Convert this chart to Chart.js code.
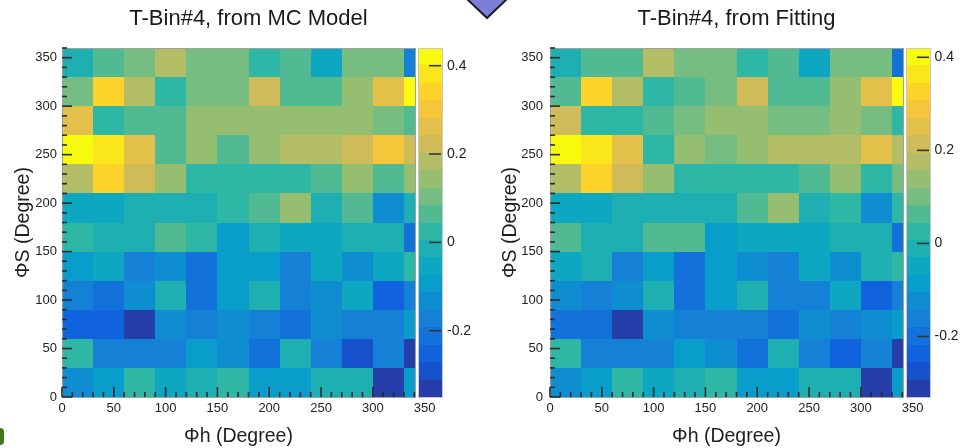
<!DOCTYPE html>
<html>
<head>
<meta charset="utf-8">
<script src="https://cdn.jsdelivr.net/npm/chart.js@4.4.1/dist/chart.umd.min.js"></script>
<style>
html,body{margin:0;padding:0;background:#fff;overflow:hidden;width:960px;height:448px;position:relative}
.panel{position:absolute;top:0;width:480px;height:448px}
#p1{left:0}
#p2{left:480px}
.deco{position:absolute;pointer-events:none}
</style>
</head>
<body>
<div class="panel" id="p1"><canvas id="c1" width="480" height="448"></canvas></div>
<div class="panel" id="p2"><canvas id="c2" width="480" height="448"></canvas></div>
<svg class="deco" style="left:462px;top:0" width="50" height="22">
  <polygon points="4,-2 46,-2 25,18" fill="#7d7fd6" stroke="#1c1c2c" stroke-width="2"/>
</svg>
<div class="deco" style="left:0;top:428px;width:4px;height:17px;background:#3f7a16;border-radius:0 6px 6px 0"></div>
<script>
// ---------------- data ----------------
const phiHEdges = [0, 30, 60, 90, 120, 150, 180, 210, 240, 270, 300, 330, 360];
const phiSEdges = [0, 30, 60, 90, 120, 150, 180, 210, 240, 270, 300, 330, 360];
const axisTickStep = 50;
const colorTickStep = 0.2;

// rows: ΦS bin 0-30 (first) ... 330-360 (last); columns: Φh bins
const mcModel = [
  [-0.13, -0.09,  0.03, -0.05, -0.01,  0.03, -0.09, -0.09, -0.01, -0.01, -0.33, -0.09],
  [ 0.03, -0.17, -0.17, -0.17, -0.09, -0.13, -0.21, -0.01, -0.17, -0.29, -0.17, -0.33],
  [-0.25, -0.25, -0.33, -0.13, -0.17, -0.13, -0.17, -0.21, -0.13, -0.17, -0.17, -0.09],
  [-0.17, -0.21, -0.13, -0.01, -0.21, -0.09, -0.01, -0.17, -0.13, -0.05, -0.25, -0.17],
  [-0.09, -0.05, -0.17, -0.13, -0.21, -0.09, -0.09, -0.17, -0.05, -0.13, -0.05,  0.03],
  [ 0.03, -0.01, -0.01,  0.07,  0.03, -0.09, -0.01, -0.05, -0.05, -0.01, -0.01, -0.21],
  [-0.05, -0.05, -0.01, -0.01, -0.01,  0.03,  0.07,  0.14, -0.01,  0.07, -0.13, -0.01],
  [ 0.18,  0.34,  0.22,  0.14,  0.03,  0.03,  0.03,  0.03,  0.07,  0.14,  0.07,  0.14],
  [ 0.42,  0.38,  0.26,  0.07,  0.14,  0.07,  0.14,  0.18,  0.18,  0.22,  0.30,  0.22],
  [ 0.26,  0.03,  0.07,  0.07,  0.14,  0.14,  0.14,  0.14,  0.14,  0.14,  0.10,  0.07],
  [ 0.10,  0.34,  0.18,  0.03,  0.10,  0.10,  0.22,  0.07,  0.07,  0.14,  0.26,  0.42],
  [-0.01,  0.07,  0.10,  0.18,  0.10,  0.10,  0.03,  0.07, -0.05,  0.10,  0.10, -0.17]
];

const fitting = [
  [-0.12, -0.09,  0.03, -0.05, -0.01,  0.03, -0.09, -0.09, -0.01, -0.01, -0.31, -0.09],
  [ 0.03, -0.16, -0.16, -0.16, -0.09, -0.12, -0.20, -0.01, -0.16, -0.24, -0.16, -0.31],
  [-0.20, -0.20, -0.31, -0.12, -0.16, -0.16, -0.16, -0.20, -0.12, -0.16, -0.12, -0.09],
  [-0.12, -0.16, -0.12, -0.01, -0.20, -0.09, -0.01, -0.16, -0.16, -0.05, -0.24, -0.16],
  [-0.05, -0.01, -0.16, -0.09, -0.20, -0.09, -0.12, -0.16, -0.05, -0.12, -0.01,  0.03],
  [ 0.06, -0.01, -0.01,  0.06,  0.06, -0.09, -0.05, -0.05, -0.05, -0.01, -0.01, -0.20],
  [-0.05, -0.05, -0.01, -0.01, -0.01, -0.01,  0.06,  0.14, -0.01,  0.03, -0.12,  0.03],
  [ 0.18,  0.33,  0.21,  0.14,  0.03,  0.03,  0.03,  0.03,  0.06,  0.14,  0.03,  0.10],
  [ 0.40,  0.36,  0.25,  0.03,  0.14,  0.10,  0.14,  0.18,  0.18,  0.18,  0.25,  0.18],
  [ 0.21,  0.03,  0.03,  0.06,  0.10,  0.14,  0.14,  0.10,  0.10,  0.14,  0.10,  0.03],
  [ 0.06,  0.33,  0.18,  0.03,  0.06,  0.10,  0.21,  0.06,  0.06,  0.14,  0.25,  0.40],
  [-0.01,  0.06,  0.06,  0.18,  0.10,  0.10,  0.03,  0.06, -0.05,  0.10,  0.10, -0.20]
];

const mcZRange = [-0.35, 0.44];
const fitZRange = [-0.33, 0.42];
const nContours = 20;
const axisMax = 360;      // full axis range
const frameMax = 340.5;   // visible part of the Φh axis (palette covers the rest)

// ---------------- palette (ROOT kBird) ----------------
const birdStops = [0, 0.125, 0.25, 0.375, 0.5, 0.625, 0.75, 0.875, 1];
const birdR = [0.2082, 0.0592, 0.0780, 0.0232, 0.1802, 0.5301, 0.8186, 0.9956, 0.9764];
const birdG = [0.1664, 0.3599, 0.5041, 0.6419, 0.7178, 0.7492, 0.7328, 0.7862, 0.9832];
const birdB = [0.5293, 0.8684, 0.8385, 0.7914, 0.6425, 0.4662, 0.3499, 0.1968, 0.0539];

function birdColor(t) {
  t = Math.max(0, Math.min(1, t));
  let i = 0;
  while (i < birdStops.length - 2 && t > birdStops[i + 1]) i++;
  const f = (t - birdStops[i]) / (birdStops[i + 1] - birdStops[i]);
  const c = a => Math.round(255 * (a[i] + (a[i + 1] - a[i]) * f));
  return `rgb(${c(birdR)},${c(birdG)},${c(birdB)})`;
}
function levelIndex(v, zmin, zmax) {
  let k = Math.floor((v - zmin) / (zmax - zmin) * nContours);
  return Math.max(0, Math.min(nContours - 1, k));
}
function levelColor(k) { return birdColor((k + 0.99) / nContours); }

// ---------------- plugin drawing cells, frame, ticks, palette ----------------
const heatmap = {
  id: 'heatmap',
  beforeDatasetsDraw(chart, args, o) {
    const {ctx, scales: {x, y}} = chart;
    ctx.save();
    for (const p of chart.data.datasets[0].data) {
      const x0 = Math.round(x.getPixelForValue(p.x0));
      const x1 = Math.round(x.getPixelForValue(Math.min(p.x1, o.frameMax)));
      const yt = Math.round(y.getPixelForValue(p.y1));
      const yb = Math.round(y.getPixelForValue(p.y0));
      ctx.fillStyle = levelColor(levelIndex(p.v, o.zmin, o.zmax));
      ctx.fillRect(x0, yt, x1 - x0, yb - yt);
    }
    ctx.restore();
  },
  afterDatasetsDraw(chart, args, o) {
    const {ctx, chartArea: ca, scales: {x, y, z}} = chart;
    const L = Math.round(ca.left), T = Math.round(ca.top), B = Math.round(ca.bottom);
    const R = Math.round(x.getPixelForValue(o.frameMax));
    const line = (a, b, c, d) => { ctx.beginPath(); ctx.moveTo(a, b); ctx.lineTo(c, d); ctx.stroke(); };
    ctx.save();
    // frame
    ctx.strokeStyle = '#a0a0a0'; ctx.lineWidth = 1;
    ctx.strokeRect(L + 0.5, T + 0.5, R - L, B - T);
    // inner ticks
    ctx.strokeStyle = '#2a2a2a'; ctx.lineWidth = 1.6;
    for (let v = 0; v <= axisMax; v += 10) {
      const len = v % axisTickStep === 0 ? 10 : 5;
      const py = y.getPixelForValue(v);
      line(L, py, L + len, py);
      if (v <= o.frameMax) {
        const px = x.getPixelForValue(v);
        line(px, B, px, B - len);
      }
    }
    // palette
    const cbL = R + 4, cbW = 23;
    const dz = (o.zmax - o.zmin) / nContours;
    for (let k = 0; k < nContours; k++) {
      const top = Math.round(z.getPixelForValue(o.zmin + (k + 1) * dz));
      const bot = Math.round(z.getPixelForValue(o.zmin + k * dz));
      ctx.fillStyle = levelColor(k);
      ctx.fillRect(cbL, top, cbW, bot - top + (k === 0 ? 1 : 0));
    }
    ctx.strokeStyle = '#c8c8c8'; ctx.lineWidth = 1;
    ctx.strokeRect(cbL - 0.5, T + 0.5, cbW + 1, B - T);
    ctx.strokeStyle = '#333'; ctx.lineWidth = 1.6;
    for (const t of z.ticks) {
      const py = z.getPixelForValue(t.value);
      line(cbL + cbW - 13, py, cbL + cbW - 1, py);
    }
    // x axis title, centred on the visible frame
    ctx.fillStyle = '#1e1e1e';
    ctx.font = '19.5px "Liberation Sans", Arial, sans-serif';
    ctx.textAlign = 'center'; ctx.textBaseline = 'middle';
    ctx.fillText(o.xTitle, (L + R) / 2, B + 40);
    ctx.restore();
  }
};

Chart.defaults.font.family = '"Liberation Sans", Arial, Helvetica, sans-serif';
Chart.defaults.color = '#222';

function makeChart(id, values, zr, titleText, lay) {
  const cells = [];
  values.forEach((row, j) => row.forEach((v, i) => {
    cells.push({
      x: (phiHEdges[i] + phiHEdges[i + 1]) / 2, y: (phiSEdges[j] + phiSEdges[j + 1]) / 2,
      x0: phiHEdges[i], x1: phiHEdges[i + 1], y0: phiSEdges[j], y1: phiSEdges[j + 1], v
    });
  }));
  return new Chart(document.getElementById(id), {
    type: 'scatter',
    data: {datasets: [{data: cells, pointRadius: 0, pointHoverRadius: 0, showLine: false}]},
    options: {
      responsive: false, animation: false, events: [],
      layout: {padding: 0},
      plugins: {
        legend: {display: false},
        tooltip: {enabled: false},
        title: {
          display: true, text: titleText, fullSize: false, color: '#1a1a1a',
          font: {size: 22, weight: 'normal'}, padding: {top: 6, bottom: 15.6}
        },
        heatmap: {zmin: zr[0], zmax: zr[1], frameMax: frameMax, xTitle: 'Φh (Degree)'}
      },
      scales: {
        x: {
          type: 'linear', position: 'bottom', min: 0, max: axisMax,
          grid: {display: false, drawTicks: false}, border: {display: false},
          ticks: {stepSize: axisTickStep, includeBounds: false, padding: 4, font: {size: 13}, color: '#222', maxRotation: 0, autoSkip: false},
          afterFit: s => { s.height = 51; }
        },
        y: {
          type: 'linear', position: 'left', min: 0, max: axisMax,
          grid: {display: false, drawTicks: false}, border: {display: false},
          ticks: {stepSize: axisTickStep, includeBounds: false, padding: lay.yTickPad, font: {size: 13}, color: '#222', autoSkip: false},
          title: {display: true, text: 'ΦS (Degree)', color: '#1e1e1e', font: {size: 19.5}, padding: {top: lay.yTitlePad, bottom: 0}},
          afterFit: s => { s.width = lay.left; }
        },
        z: {
          type: 'linear', position: 'right', min: zr[0], max: zr[1],
          grid: {display: false, drawTicks: false}, border: {display: false},
          ticks: {stepSize: colorTickStep, includeBounds: false, padding: lay.zPad, font: {size: 14}, color: '#222', autoSkip: false},
          afterFit: s => { s.width = 480 - lay.right; }
        }
      }
    },
    plugins: [heatmap]
  });
}

makeChart('c1', mcModel, mcZRange, 'T-Bin#4, from MC Model', {left: 62, right: 435, yTickPad: 5, yTitlePad: 11.8, zPad: 12});
makeChart('c2', fitting, fitZRange, 'T-Bin#4, from Fitting', {left: 70, right: 443, yTickPad: 7, yTitlePad: 18.8, zPad: 11.5});
</script>
</body>
</html>
